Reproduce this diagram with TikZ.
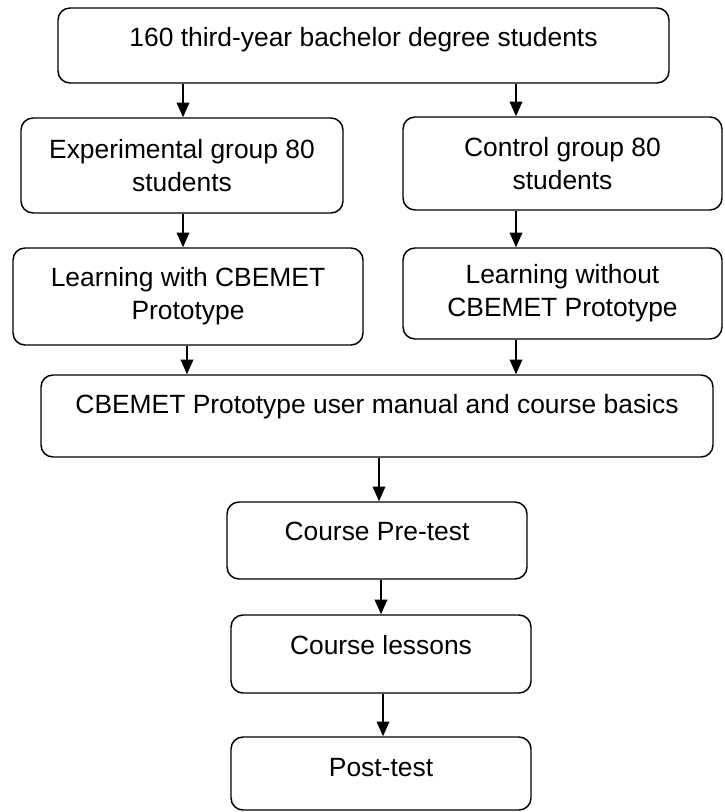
\documentclass[tikz,border=0pt]{standalone}
\usepackage{fontspec}
\setmainfont{Liberation Sans}
\usetikzlibrary{arrows.meta}
\begin{document}
\begin{tikzpicture}[x=0.75pt,y=-0.75pt,
    box/.style={draw,line width=1.1pt,rounded corners=9pt,inner sep=0pt,align=center,
        font=\fontsize{19.8}{24.75}\selectfont},
    one/.style={box,text height=14.2pt},
    arr/.style={line width=1.1pt,-{Triangle[length=11pt,width=9.5pt]}}]
                    \useasboundingbox (0,0) rectangle (724,812);
                    \node[one,text depth=12.8pt,minimum width=458.25pt,minimum height=56.25pt] (all)     at (363.5,45.5)  {160 third-year bachelor degree students};
                    \node[box,minimum width=241.5pt,minimum height=71.25pt]                    (exper)   at (182,165.5)   {Experimental group 80\\students};
                    \node[box,minimum width=239.25pt,minimum height=69.75pt]                   (control) at (562.5,163.5) {Control group 80\\students};
                    \node[box,minimum width=262.5pt,minimum height=72.75pt]                    (with)    at (188,296.5)   {Learning with CBEMET\\Prototype};
                    \node[box,minimum width=239.25pt,minimum height=68.25pt]                   (without) at (562.5,293.5) {Learning without\\CBEMET Prototype};
                    \node[one,text depth=18.3pt,minimum width=504pt,minimum height=61.5pt]    (manual)  at (377,416)     {CBEMET Prototype user manual and course basics};
                    \node[one,text depth=14.2pt,minimum width=225pt,minimum height=57.75pt]   (pretest) at (377,540.5)   {Course Pre-test};
                    \node[one,text depth=14.2pt,minimum width=225pt,minimum height=58.5pt]    (lessons) at (381,654)     {Course lessons};
                    \node[one,text depth=10.2pt,minimum width=225pt,minimum height=54.75pt]   (post)    at (381,773.5)   {Post-test};
                    \coordinate (lcol) at (183,0);
                    \coordinate (rcol) at (516,0);
                    \coordinate (mcol) at (381,0);
                    \draw[arr] (all.south -| lcol) -- (exper.north -| lcol);
                    \draw[arr] (all.south -| rcol) -- (control.north -| rcol);
                    \draw[arr] (exper.south -| lcol) -- (with.north -| lcol);
                    \draw[arr] (control.south -| rcol) -- (without.north -| rcol);
                    \draw[arr] ([xshift=3pt]with.south -| lcol) -- ([xshift=3pt]manual.north -| lcol);
                    \draw[arr] (without.south -| rcol) -- (manual.north -| rcol);
                    \draw[arr] ([xshift=-1.5pt]manual.south -| mcol) -- ([xshift=-1.5pt]pretest.north -| mcol);
                    \draw[arr] (pretest.south -| mcol) -- (lessons.north -| mcol);
                    \draw[arr] ([xshift=1.5pt]lessons.south -| mcol) -- ([xshift=1.5pt]post.north -| mcol);
                \end{tikzpicture}
\end{document}
